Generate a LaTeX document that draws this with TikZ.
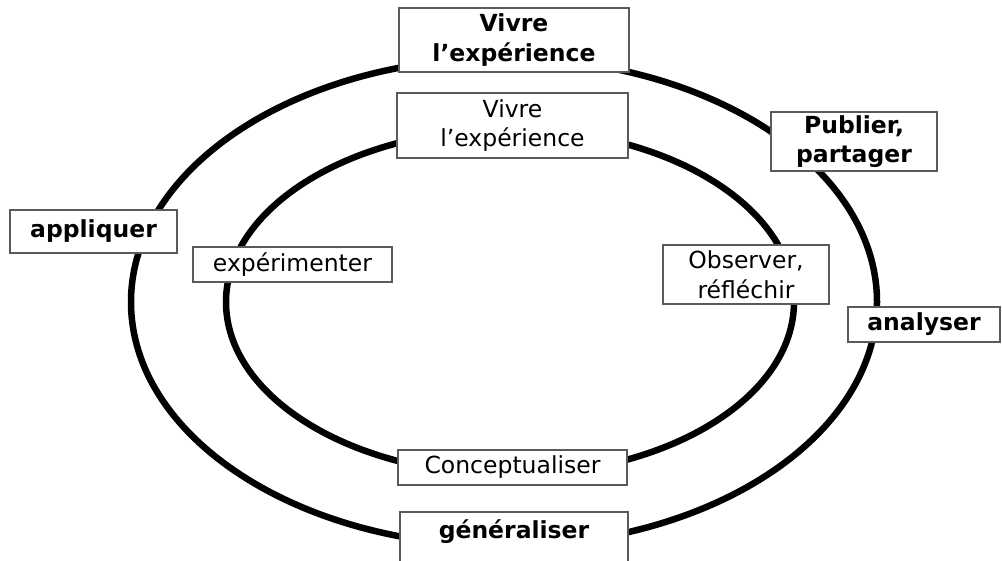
\documentclass[tikz,border=0pt]{standalone}
\usepackage{fontspec}
\setmainfont{DejaVu Sans}
\definecolor{BoxGrey}{RGB}{90,90,90}

\begin{document}
\begin{tikzpicture}[x=1pt, y=-1pt,
    stage/.style={draw=BoxGrey, line width=1.2pt, fill=white, inner sep=0pt, align=center, font=\fontsize{23.5}{29.5}\selectfont},
    outerstage/.style={stage, font=\fontsize{23.5}{29.5}\selectfont\bfseries},
    cycle/.style={line width=6.5pt}]
                \useasboundingbox (0,0) rectangle (1002,560);
                \clip (0,0) rectangle (1002,560);
                % Both cycles FIRST (behind the boxes)
                \draw[cycle] (504,302) ellipse [x radius=373, y radius=244];
                \draw[cycle] (510,302) ellipse [x radius=284, y radius=173];
                % Outer cycle - bold labels
                \node[outerstage, minimum width=230, minimum height=64] (vivreO) at (514,40) {Vivre\\l’expérience};
                \node[outerstage, minimum width=166, minimum height=59] (publier) at (854,141.5) {Publier,\\partager};
                \node[outerstage, minimum width=152, minimum height=35] (analyser) at (924,324.5) {analyser};
                \node[outerstage, minimum width=228, minimum height=64] (generaliser) at (514,544) {généraliser\\\mbox{}};
                \node[outerstage, minimum width=167, minimum height=43] (appliquer) at (93.5,231.5) {appliquer};
                % Inner cycle - plain labels
                \node[stage, minimum width=231, minimum height=65] (vivreI) at (512.5,125.5) {Vivre\\l’expérience};
                \node[stage, minimum width=166, minimum height=59] (observer) at (746,274.5) {Observer,\\réfléchir};
                \node[stage, minimum width=229, minimum height=35] (concept) at (512.5,467.5) {Conceptualiser};
                \node[stage, minimum width=199, minimum height=35] (experimenter) at (292.5,264.5) {expérimenter};
\end{tikzpicture}
\end{document}
